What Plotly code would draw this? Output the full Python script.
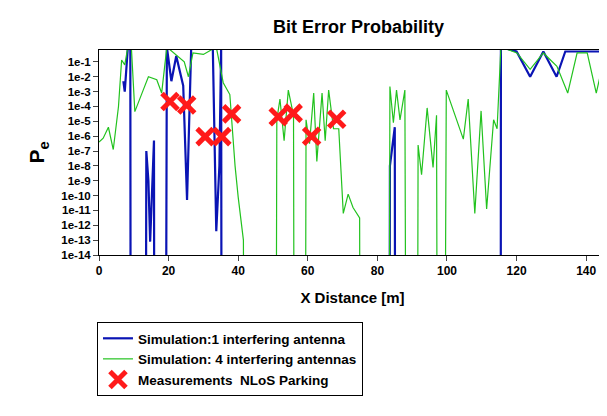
import plotly.graph_objects as go

LOW = -100  # far below the axis floor, clipped, gives vertical edges
TOP = 0

# green: 4 interfering antennas (x in m, log10 Pe)
g_x = [0, 1.2, 2.7, 4.1, 5.6, 6.5, 7.4, 8.3, 9.3, 10.3, 12.7, 14.2, 16.6, 18.0, 19.5,
       22.0, 24.5, 25.7, 27.0, 30.0, 33.7, 35.7, 37.6, 39.1, 40.0, 41.5, 42.9, 50.1,
       51.1, 52.0, 53.2, 54.4, 55.9, 56.8, 58.6, 59.5, 60.5, 61.7, 62.6, 64.1, 65.0,
       66.0, 67.4, 68.9, 70.2, 71.6, 73.0, 74.9, 75.8, 82.7, 83.6, 84.6, 85.5, 86.5,
       87.9, 89.3, 90.8, 91.7, 92.7, 94.3, 96.0, 97.0, 98.0, 99.8, 101.8, 104.7, 106.1,
       108.0, 109.8, 111.4, 113.4, 114.4, 115.5, 120.1, 123.9, 127.7, 131.6, 134.7,
       137.4, 140.3, 142.9, 145.5]
g_y = [-6.4, -6.14, -5.4, -6.9, -4.0, -0.87, -1.2, TOP, TOP, -4.35, -2.9, -2.0, -2.2,
       -3.1, TOP, -0.5, -1.0, -2.0, -0.4, -0.5, TOP, -2.4, -3.2, -8.0, -10.1, -13.0,
       LOW, LOW, -4.9, -3.5, -6.3, -2.9, -4.6, LOW, LOW, -4.9, -6.5, -3.1, -7.7, -3.1,
       -6.3, -2.9, -5.5, -5.5, -11.2, -9.9, -10.8, -11.5, LOW, LOW, -2.66, -5.1, -2.9,
       -4.9, -2.9, LOW, LOW, -6.6, -8.6, -4.1, -8.1, -4.6, LOW, -2.9, -4.25, -6.2, -3.5,
       -11.2, -4.3, -10.9, -4.9, -5.5, TOP, -0.4, -1.5, -0.4, -1.3, -3.1, -0.4, -0.4,
       -3.1, -0.4]

# blue: 1 interfering antenna
b_x = [7.0, 7.4, 8.3, 9.0, 9.4, 12.8, 13.6, 14.2, 14.7, 15.3, 15.8, 16.3, 18.3, 19.5,
       20.8, 22.2, 24.2, 25.3, 26.5, 32.7, 33.7, 34.6, 35.1, 35.6, 83.1, 83.6, 85.0,
       85.5, 115.3, 115.5, 120.0, 123.9, 127.7, 131.5, 134.0, 145.5]
b_y = [-2.3, -3.0, TOP, TOP, LOW, LOW, -7.0, -9.0, -13.1, -9.5, -6.3, LOW, LOW, TOP,
       -2.3, -0.6, -2.6, -10.3, TOP, TOP, -12.4, -8.0, TOP, LOW, LOW, -8.0, -5.4, LOW,
       LOW, TOP, -0.3, -2.0, -0.3, -2.0, -0.3, -0.3]

# measurements NLoS parking
m_x = [20.4, 25.2, 30.5, 35.3, 38.1, 51.5, 55.8, 61.1, 68.3]
m_y = [-3.67, -3.9, -6.03, -6.03, -4.5, -4.7, -4.45, -6.0, -4.86]

tick_exp = list(range(-1, -15, -1))

fig = go.Figure()
fig.add_trace(go.Scatter(x=b_x, y=[10 ** v for v in b_y], mode="lines",
                         line=dict(color="#0a14b4", width=2.2),
                         name="Simulation:1 interfering antenna"))
fig.add_trace(go.Scatter(x=g_x, y=[10 ** v for v in g_y], mode="lines",
                         line=dict(color="#22c21e", width=1.2),
                         name="Simulation: 4 interfering antennas"))
fig.add_trace(go.Scatter(x=m_x, y=[10 ** v for v in m_y], mode="markers",
                         marker=dict(symbol="x-thin", size=16, color="#ff1a1a",
                                     line=dict(color="#ff1a1a", width=5)),
                         name="Measurements  NLoS Parking"))

# page has an 8px body margin, so the figure is sized to fit the window
fig.update_layout(
    width=599, height=408, plot_bgcolor="white", paper_bgcolor="white",
    margin=dict(l=91, r=1, t=42, b=161),
    font=dict(family="Liberation Sans", color="black", size=13),
    title=dict(text="<b>Bit Error Probability</b>", x=0.585, y=0.97, font=dict(size=18)),
    legend=dict(x=-0.004, y=-0.327, xanchor="left", yanchor="top",
                bordercolor="black", borderwidth=1, bgcolor="white",
                font=dict(size=13.5, weight="bold"), tracegroupgap=0),
)
fig.update_xaxes(range=[0, 145.7], tickvals=list(range(0, 141, 20)),
                 showline=True, linecolor="black", mirror=True, ticks="outside",
                 showgrid=False, zeroline=False, automargin=False,
                 title=dict(text="<b>X Distance [m]</b>", font=dict(size=15)),
                 tickfont=dict(size=12, weight="bold"))
fig.update_yaxes(type="log", range=[-14, -0.2],
                 tickvals=[10 ** e for e in tick_exp],
                 ticktext=["1e%d" % e for e in tick_exp],
                 showline=True, linecolor="black", mirror=True, ticks="outside",
                 showgrid=False, zeroline=False, automargin=False,
                 title=dict(text="<b>P<sub>e</sub></b>", font=dict(size=21), standoff=10),
                 tickfont=dict(size=11.5, weight="bold"))

fig.write_html("out.html")
